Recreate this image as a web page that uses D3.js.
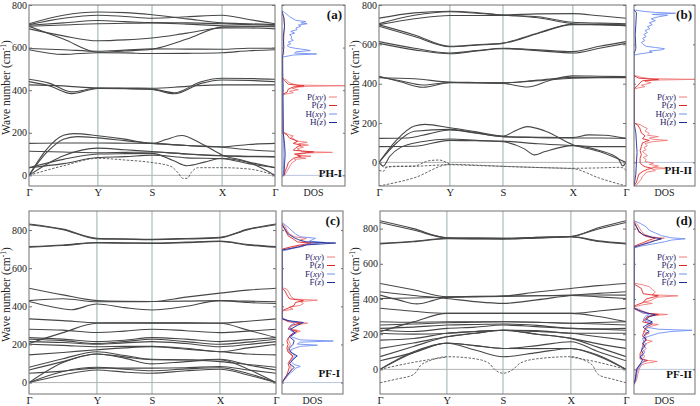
<!DOCTYPE html>
<html><head><meta charset="utf-8">
<script src="https://cdn.jsdelivr.net/npm/d3@7"></script>
<style>body{margin:0;background:#fff}svg{display:block}text{font-family:"Liberation Serif","Times New Roman",serif}</style>
</head><body><svg id="chart" width="700" height="406"></svg>
<script>
// ---------- DATA ----------
const kLabels = ["Γ","Y","S","X","Γ"];
const yTicks = [0, 200, 400, 600, 800];
// k-path cumulative distances (fraction of path) for each structure
const kPathA = [0, 0.28, 0.5, 0.785, 1];
const kPathB = [0, 0.287, 0.502, 0.785, 1];
const kPathC = [0, 0.275, 0.498, 0.773, 1];
const kPathD = [0, 0.272, 0.5, 0.776, 1];
// band values: 9 numbers = Γ, ½ΓY, Y, ½YS, S, ½SX, X, ½XΓ, Γ ; or [segmentCoord, value] pairs
const bandsA = [
  [712, 752, 767, 764, 754, 735, 716, 712, 708],
  [708, 738, 752, 746, 738, 745, 752, 732, 712],
  [705, 716, 727, 722, 717, 716, 712, 708, 705],
  [700, 706, 712, 714, 716, 710, 702, 700, 700],
  [688, 655, 632, 636, 645, 668, 692, 692, 688],
  [700, 640, 578, 584, 592, 640, 696, 698, 698],
  [596, 590, 583, 588, 594, 593, 592, 597, 597],
  [590, 568, 576, 575, 572, 573, 576, 585, 590],
  [[0,451],[0.3,432],[0.62,392],[1,410],[1.5,408],[2,405],[2.32,388],[2.7,440],[3,456],[3.5,455],[4,451]],
  [[0,440],[0.3,420],[0.62,384],[1,408],[1.5,407],[2,403],[2.32,383],[2.7,432],[3,448],[3.5,446],[4,440]],
  [425, 420, 410, 410, 409, 418, 425, 425, 425],
  [[0,0],[0.25,120],[0.5,188],[0.65,196],[1,186],[1.5,170],[2,150],[2.2,168],[2.42,187],[2.7,150],[3,96],[3.5,62],[4,0]],
  [[0,0],[0.25,105],[0.5,170],[0.7,182],[1,176],[1.5,163],[2,150],[2.5,140],[3,132],[3.5,120],[4,113]],
  [150, 152, 152, 151, 150, 140, 134, 145, 150],
  [[0,0],[0.5,92],[1,128],[1.5,120],[2,112],[2.5,100],[3,92],[3.5,88],[4,87]],
  [113, 110, 106, 108, 110, 100, 92, 90, 88],
  [[0,36],[0.5,75],[1,100],[1.5,102],[2,103],[2.3,70],[2.5,45],[2.75,62],[3,80],[3.5,62],[4,36]],
  [36, 55, 84, 88, 95, 82, 78, 55, 36]
];
const dashedA = [
  [[0,0],[0.5,45],[1,80],[1.5,72],[2,60],[2.27,42],[2.37,12],[2.44,-14],[2.5,-14],[2.57,18],[2.66,36],[3,36],[3.5,30],[4,0]]
];
const bandsB = [
  [733, 760, 768, 762, 750, 755, 756, 745, 733],
  [705, 748, 766, 758, 748, 740, 712, 708, 705],
  [700, 730, 747, 747, 747, 735, 705, 700, 695],
  [692, 640, 588, 596, 605, 655, 700, 700, 695],
  [699, 648, 590, 598, 607, 658, 702, 702, 699],
  [614, 580, 556, 568, 580, 572, 563, 590, 614],
  [605, 572, 552, 566, 578, 568, 556, 580, 605],
  [[0,438],[0.3,410],[0.62,382],[1,405],[1.5,404],[2,401],[2.35,383],[2.7,420],[3,440],[3.5,438],[4,436]],
  [[0,434],[0.3,415],[0.62,393],[1,406],[2,404],[2.5,418],[3,432],[4,432]],
  [430, 425, 408, 406, 404, 415, 428, 430, 430],
  [[0,0],[0.25,115],[0.5,185],[0.65,193],[1,176],[1.5,155],[2,134],[2.2,165],[2.35,182],[2.6,160],[3,90],[3.5,55],[4,0]],
  [[0,0],[0.25,100],[0.5,158],[1,168],[1.5,150],[2,131],[2.5,128],[3,126],[3.3,140],[3.6,138],[4,122]],
  [[0,122],[0.4,124],[0.7,145],[1,165],[1.5,148],[2,131],[2.5,126],[3,124],[3.5,124],[4,122]],
  [[0,0],[0.06,-18],[0.15,30],[0.3,75],[0.6,105],[1,119],[1.5,112],[2,105],[2.3,70],[2.45,38],[2.6,55],[3,85],[3.5,60],[3.85,20],[3.94,-18],[4,0]],
  [[0,80],[0.5,82],[1,112],[1.5,110],[2,108],[2.5,95],[3,86],[3.5,80],[4,80]]
];
const dashedB = [
  [-120, -78, -10, -14, -20, -26, -32, -80, -120],
  [[0,-40],[0.06,-45],[0.12,-22],[0.5,-20],[1,-12],[1.5,-16],[2,-20],[2.5,-26],[3,-30],[3.5,-28],[3.9,-25],[4,-40]],
  [[0,0],[0.08,-25],[0.2,-20],[0.5,-18],[0.7,8],[0.85,12],[0.95,0],[1,-10]]
];
const bandsC = [
  [832, 805, 757, 754, 752, 756, 762, 805, 832],
  [828, 802, 754, 752, 750, 753, 759, 802, 828],
  [713, 722, 735, 733, 732, 737, 742, 724, 713],
  [710, 719, 732, 731, 730, 734, 740, 721, 710],
  [495, 460, 430, 426, 425, 448, 469, 485, 495],
  [430, 440, 424, 424, 425, 427, 430, 427, 424],
  [[0,425],[0.3,400],[0.62,382],[1,412],[1.5,393],[2,381],[2.5,400],[3,430],[3.5,420],[4,415]],
  [334, 325, 314, 314, 313, 313, 312, 322, 334],
  [280, 275, 263, 270, 280, 272, 262, 270, 280],
  [205, 262, 311, 312, 312, 312, 311, 275, 236],
  [236, 228, 215, 222, 236, 228, 215, 225, 236],
  [227, 220, 205, 215, 227, 215, 201, 212, 227],
  [215, 210, 201, 208, 215, 205, 188, 200, 215],
  [201, 195, 188, 190, 190, 180, 162, 182, 201],
  [145, 158, 172, 182, 188, 175, 162, 150, 145],
  [0, 40, 66, 55, 49, 62, 70, 40, 0],
  [0, 58, 80, 70, 62, 72, 78, 48, 0],
  [[0,0],[0.5,105],[1,150],[1.5,128],[2,98],[2.5,110],[3,120],[3.5,70],[4,0]],
  [49, 60, 76, 76, 76, 78, 84, 66, 49],
  [66, 110, 150, 135, 120, 118, 122, 92, 66],
  [80, 125, 162, 142, 122, 120, 110, 95, 80]
];
const dashedC = [];
const bandsD = [
  [845, 800, 748, 746, 745, 750, 755, 805, 845],
  [835, 792, 748, 746, 745, 750, 755, 798, 835],
  [716, 728, 745, 743, 742, 748, 755, 730, 716],
  [713, 725, 742, 741, 740, 746, 752, 727, 713],
  [488, 452, 413, 415, 417, 440, 460, 476, 488],
  [441, 420, 403, 385, 375, 395, 420, 432, 441],
  [[0,422],[0.3,392],[0.55,372],[0.8,392],[1,411],[1.5,414],[2,416],[2.5,418],[3,422],[3.5,423],[4,422]],
  [403, 406, 409, 412, 415, 418, 420, 412, 403],
  [347, 330, 318, 318, 318, 318, 318, 332, 347],
  [214, 270, 318, 318, 318, 318, 318, 300, 271],
  [271, 268, 271, 271, 271, 268, 262, 266, 271],
  [252, 258, 265, 268, 271, 268, 262, 258, 252],
  [233, 240, 252, 255, 258, 250, 233, 230, 233],
  [222, 215, 233, 240, 252, 243, 233, 228, 222],
  [205, 200, 205, 215, 222, 220, 205, 205, 205],
  [166, 175, 205, 215, 222, 215, 205, 185, 166],
  [119, 150, 185, 205, 222, 200, 176, 145, 119],
  [72, 130, 185, 205, 222, 200, 176, 125, 72],
  [49, 95, 148, 135, 119, 135, 157, 100, 49],
  [0, 95, 150, 135, 119, 118, 119, 80, 0],
  [0, 100, 148, 110, 72, 95, 119, 75, 0]
];
const dashedD = [
  [[0,-76],[0.25,-55],[0.5,-30],[0.55,-10],[0.6,20],[0.75,50],[1,72],[1.5,60],[1.75,35],[1.85,0],[2,-22],[2.15,0],[2.25,35],[2.5,60],[3,72],[3.25,50],[3.4,20],[3.45,-10],[3.5,-30],[3.75,-55],[4,-76]],
  [[0,0],[0.5,40],[1,70]],
  [[3,70],[3.5,40],[4,0]]
];
// DOS: [frequency, density(0-100)]
const dosA_Pxy = [[0,4],[10,6],[20,8],[30,10],[40,12],[50,14],[60,16],[70,22],[75,20],[80,38],[85,26],[90,46],[95,24],[100,28],[105,40],[108,80],[112,32],[118,28],[125,24],[132,34],[138,28],[142,42],[148,26],[155,40],[162,22],[170,20],[178,14],[185,18],[192,10],[198,6],[205,0],[375,0],[382,6],[388,18],[395,12],[402,26],[408,16],[414,24],[418,40],[421,100],[424,24],[430,16],[438,10],[446,8],[452,4],[458,0],[560,0],[570,3],[600,2],[650,3],[700,4],[740,3],[770,0]];
const dosA_Pz = [[0,3],[20,5],[40,8],[60,10],[80,18],[90,30],[100,20],[110,50],[118,18],[130,22],[142,30],[150,18],[160,25],[175,12],[190,8],[205,0],[380,0],[390,8],[405,10],[415,18],[420,35],[428,10],[445,4],[455,0]];
const dosA_Hxy = [[0,2],[100,3],[200,2],[380,1],[420,2],[450,1],[555,0],[565,18],[570,55],[574,20],[580,22],[586,45],[590,38],[596,22],[602,12],[610,8],[618,14],[626,10],[634,18],[642,14],[650,16],[660,12],[668,20],[676,14],[684,24],[692,22],[700,30],[706,26],[712,40],[716,30],[722,38],[728,22],[735,18],[745,12],[755,8],[765,4],[772,0]];
const dosA_Hz = [[0,3],[50,4],[100,5],[150,4],[200,2],[560,1],[600,3],[650,2],[700,4],[740,3],[770,0]];
const dosB_Pxy = [[-125,0],[-115,4],[-100,8],[-85,12],[-70,14],[-60,18],[-50,20],[-42,35],[-35,30],[-30,55],[-25,30],[-18,40],[-10,25],[-4,32],[5,18],[15,20],[25,15],[35,22],[45,18],[55,14],[65,20],[75,16],[85,22],[95,18],[105,30],[112,55],[118,30],[124,25],[131,40],[138,22],[148,25],[160,18],[172,22],[182,15],[192,10],[200,0],[372,0],[378,6],[385,18],[392,12],[398,20],[405,28],[412,18],[418,30],[422,100],[426,25],[432,12],[438,6],[442,0]];
const dosB_Pz = [[-120,0],[-100,4],[-80,6],[-60,8],[-45,15],[-35,22],[-30,30],[-22,18],[-10,12],[0,10],[20,10],[40,12],[60,10],[80,12],[100,14],[112,25],[120,14],[135,18],[150,12],[170,10],[190,6],[200,0],[375,0],[390,6],[405,10],[415,14],[421,40],[428,8],[440,0]];
const dosB_Hxy = [[545,0],[552,10],[560,30],[566,25],[572,45],[578,50],[584,35],[590,20],[600,15],[610,12],[620,18],[630,14],[640,20],[650,16],[660,22],[670,18],[680,26],[690,22],[700,30],[710,25],[720,35],[730,28],[740,40],[748,55],[752,30],[758,68],[762,35],[768,15],[775,0]];
const dosB_Hz = [[-120,0],[-60,3],[0,4],[50,5],[100,4],[150,3],[200,0],[550,0],[580,3],[650,2],[700,3],[760,4],[775,0]];
const dosC_Pxy = [[0,0],[10,3],[30,8],[50,12],[70,15],[90,14],[110,12],[130,18],[145,15],[160,12],[180,10],[200,14],[215,12],[230,10],[250,14],[270,30],[285,12],[300,18],[312,42],[318,15],[330,5],[340,0],[375,0],[385,18],[395,12],[405,30],[415,35],[425,30],[432,58],[438,20],[450,15],[470,12],[490,8],[498,0],[695,0],[705,15],[715,25],[725,45],[732,60],[738,35],[748,30],[756,40],[765,20],[780,12],[800,8],[820,5],[835,0]];
const dosC_Pz = [[0,0],[20,4],[40,8],[60,10],[80,12],[100,10],[120,14],[140,18],[160,10],[180,8],[200,10],[220,8],[240,12],[260,18],[270,25],[280,10],[300,14],[312,30],[320,10],[335,0],[378,0],[390,10],[405,20],[420,22],[430,35],[440,12],[460,8],[480,5],[495,0],[700,0],[712,15],[722,30],[730,48],[738,25],[750,20],[770,10],[800,5],[830,0]];
const dosC_Fxy = [[0,0],[20,5],[40,10],[60,18],[75,22],[85,30],[95,20],[110,15],[125,18],[140,22],[160,14],[175,16],[190,30],[196,58],[202,25],[212,30],[218,84],[224,30],[240,15],[260,20],[280,12],[300,15],[315,22],[325,10],[340,0],[690,0],[705,20],[715,35],[725,40],[735,70],[742,45],[750,50],[757,55],[765,30],[780,22],[800,15],[820,8],[840,0]];
const dosC_Fz = [[0,0],[30,6],[60,14],[80,20],[100,12],[120,18],[140,25],[160,14],[180,12],[200,18],[220,20],[240,12],[260,22],[280,14],[300,25],[315,35],[325,10],[335,0],[695,0],[710,25],[722,40],[732,88],[738,40],[748,28],[760,20],[780,10],[800,6],[830,0]];
const dosD_Pxy = [[-85,0],[-70,3],[-50,5],[-30,6],[-10,8],[0,8],[10,10],[25,12],[35,20],[45,38],[52,20],[60,14],[75,18],[90,12],[105,16],[120,20],[135,15],[150,22],[160,30],[168,18],[180,20],[195,18],[205,25],[215,15],[230,20],[245,28],[255,40],[262,22],[275,18],[290,20],[305,30],[312,55],[318,25],[330,15],[342,8],[350,0],[355,0],[365,12],[375,30],[382,15],[392,28],[400,32],[410,38],[418,72],[424,30],[440,35],[455,30],[470,25],[480,15],[490,0],[690,0],[705,12],[718,20],[730,30],[740,42],[746,50],[752,30],[765,18],[785,12],[810,8],[830,4],[845,0]];
const dosD_Pz = [[-80,0],[-40,3],[0,5],[20,8],[40,14],[50,22],[60,10],[90,10],[120,14],[150,15],[165,20],[190,14],[210,16],[240,20],[258,30],[270,14],[300,22],[312,40],[320,15],[345,0],[360,0],[380,15],[400,20],[418,40],[430,15],[460,12],[485,0],[700,0],[720,15],[735,25],[746,35],[755,20],[780,8],[820,3],[840,0]];
const dosD_Fxy = [[-85,0],[-60,3],[-30,4],[0,6],[20,10],[40,14],[50,18],[60,12],[80,14],[100,18],[120,12],[140,20],[160,16],[175,14],[190,26],[205,40],[215,60],[222,95],[228,40],[240,20],[255,25],[265,30],[280,15],[300,18],[312,25],[325,12],[340,5],[350,0],[690,0],[700,10],[712,30],[725,50],[735,62],[742,84],[748,60],[760,45],[775,35],[790,25],[810,20],[830,10],[845,0]];
const dosD_Fz = [[-85,0],[-60,2],[-30,3],[0,4],[20,8],[40,12],[55,14],[70,10],[90,15],[110,12],[130,18],[150,14],[170,20],[185,16],[200,18],[215,25],[225,20],[240,15],[255,22],[270,30],[285,20],[300,25],[310,35],[320,22],[335,8],[348,0],[695,0],[708,12],[720,25],[732,35],[742,45],[750,30],[765,15],[785,8],[810,4],[830,0]];
const legendPH = ["P", "P", "H", "H"];
const legendPF = ["P", "P", "F", "F"];
const legendSub = ["xy", "z", "xy", "z"];
const seriesColors = ["#f07878", "#e02828", "#6f8ff2", "#1e2a96"];

// ---------- LAYOUT ----------
const panels = [
  {box:[29,5,275,186], dos:[282,345], yDom:[-50,800], k:kPathA, bands:bandsA, dashed:dashedA, dosS:[dosA_Pxy,dosA_Pz,dosA_Hxy,dosA_Hz], leg:legendPH, legY:97, tag:"(a)", name:"PH-I", nameY:177, titleX:10},
  {box:[379,5,626,186], dos:[634,695], yDom:[-120,800], k:kPathB, bands:bandsB, dashed:dashedB, dosS:[dosB_Pxy,dosB_Pz,dosB_Hxy,dosB_Hz], leg:legendPH, legY:97, tag:"(b)", name:"PH-II", nameY:174, titleX:359},
  {box:[29,211,276,394], dos:[282,343], yDom:[-60,900], k:kPathC, bands:bandsC, dashed:dashedC, dosS:[dosC_Pxy,dosC_Pz,dosC_Fxy,dosC_Fz], leg:legendPF, legY:257, tag:"(c)", name:"PF-I", nameY:377, titleX:10},
  {box:[380,211,626,394], dos:[634,695], yDom:[-140,900], k:kPathD, bands:bandsD, dashed:dashedD, dosS:[dosD_Pxy,dosD_Pz,dosD_Fxy,dosD_Fz], leg:legendPF, legY:257, tag:"(d)", name:"PF-II", nameY:378, titleX:359}
];

const svg = d3.select("#chart");
const defs = svg.append("defs");

panels.forEach((p, pi) => {
  const [x0, y0, x1, y1] = p.box;
  const [d0, d1] = p.dos;
  const y = d3.scaleLinear().domain(p.yDom).range([y1, y0]);
  const x = d3.scaleLinear().domain([0, 1]).range([x0, x1]);
  const kAt = s => {
    const i = Math.min(3, Math.floor(s));
    return p.k[i] + (s - i) * (p.k[i + 1] - p.k[i]);
  };
  const toPts = b => (typeof b[0] === "number") ? b.map((v, i) => [i / 2, v]) : b;
  const line = d3.line().x(d => x(kAt(d[0]))).y(d => y(d[1])).curve(d3.curveMonotoneX);

  const cid = "clip" + pi;
  defs.append("clipPath").attr("id", cid).append("rect")
    .attr("x", x0).attr("y", y0).attr("width", x1 - x0).attr("height", y1 - y0);
  const cidD = "clipd" + pi;
  defs.append("clipPath").attr("id", cidD).append("rect")
    .attr("x", d0).attr("y", y0).attr("width", d1 - d0).attr("height", y1 - y0);

  const g = svg.append("g");
  g.selectAll(".vl").data(p.k.slice(1, 4)).enter().append("line")
    .attr("x1", d => x(d)).attr("x2", d => x(d)).attr("y1", y0).attr("y2", y1)
    .attr("stroke", "#8ea3a8").attr("stroke-width", 0.9);
  g.append("line").attr("x1", x0).attr("x2", x1).attr("y1", y(0)).attr("y2", y(0))
    .attr("stroke", "#b4b4b4").attr("stroke-width", 1);

  const gb = g.append("g").attr("clip-path", `url(#${cid})`);
  gb.selectAll(".band").data(p.bands).enter().append("path")
    .attr("d", b => line(toPts(b))).attr("fill", "none")
    .attr("stroke", "#474747").attr("stroke-width", 1.1);
  gb.selectAll(".dband").data(p.dashed).enter().append("path")
    .attr("d", b => line(toPts(b))).attr("fill", "none")
    .attr("stroke", "#555").attr("stroke-width", 0.9).attr("stroke-dasharray", "2.5,1.5");

  g.append("rect").attr("x", x0).attr("y", y0).attr("width", x1 - x0).attr("height", y1 - y0)
    .attr("fill", "none").attr("stroke", "#707070").attr("stroke-width", 1);

  const ax = d3.axisLeft(y).tickValues(yTicks).tickSize(-3).tickPadding(2);
  const ga = g.append("g").attr("transform", `translate(${x0},0)`).call(ax);
  ga.select(".domain").remove();
  ga.selectAll("text").attr("font-size", 10).attr("fill", "#222").style("font-family", '"Liberation Serif", serif');
  ga.selectAll("line").attr("stroke", "#707070");
  const axR = d3.axisRight(y).tickValues(yTicks).tickSize(-3).tickFormat("");
  const gr = g.append("g").attr("transform", `translate(${x1},0)`).call(axR);
  gr.select(".domain").remove(); gr.selectAll("line").attr("stroke", "#707070");

  const xa = d3.axisBottom(x).tickValues(p.k).tickSize(0).tickPadding(0)
    .tickFormat((d, i) => kLabels[i]);
  const gx = g.append("g").attr("transform", `translate(0,${y1})`).call(xa);
  gx.select(".domain").remove();
  gx.selectAll("text").attr("font-size", 10.5).attr("fill", "#222").attr("dy", null).attr("y", 10)
    .style("font-family", '"Liberation Serif", serif');

  const tt = g.append("text").attr("transform", `translate(${p.titleX},${(y0 + y1) / 2 - 8}) rotate(-90)`)
    .attr("text-anchor", "middle").attr("font-size", 11.5).attr("fill", "#222");
  tt.append("tspan").text("Wave number (cm");
  tt.append("tspan").attr("dy", -4).attr("font-size", 7.5).text("-1");
  tt.append("tspan").attr("dy", 4).text(")");

  const xd = d3.scaleLinear().domain([0, 100]).range([d0, d1]);
  g.append("line").attr("x1", d0).attr("x2", d1).attr("y1", y(0)).attr("y2", y(0))
    .attr("stroke", "#b8c4dc").attr("stroke-width", 1);
  const dline = d3.line().x(d => xd(d[1])).y(d => y(d[0]));
  const gd = g.append("g").attr("clip-path", `url(#${cidD})`);
  gd.selectAll(".dos").data(p.dosS).enter().append("path")
    .attr("d", s => dline(s)).attr("fill", "none")
    .attr("stroke", (s, i) => seriesColors[i]).attr("stroke-width", 0.9);
  g.append("rect").attr("x", d0).attr("y", y0).attr("width", d1 - d0).attr("height", y1 - y0)
    .attr("fill", "none").attr("stroke", "#707070").attr("stroke-width", 1);
  const dl = d3.axisRight(y).tickValues(yTicks).tickSize(2).tickFormat("");
  const gdl = g.append("g").attr("transform", `translate(${d0},0)`).call(dl);
  gdl.select(".domain").remove(); gdl.selectAll("line").attr("stroke", "#707070");
  const dr = d3.axisLeft(y).tickValues(yTicks).tickSize(2).tickFormat("");
  const gdr = g.append("g").attr("transform", `translate(${d1},0)`).call(dr);
  gdr.select(".domain").remove(); gdr.selectAll("line").attr("stroke", "#707070");

  g.append("text").attr("x", (d0 + d1) / 2).attr("y", y1 + 10)
    .attr("text-anchor", "middle").attr("font-size", 10).attr("fill", "#222").text("DOS");

  g.append("text").attr("x", d1 - 3).attr("y", y0 + 14).attr("text-anchor", "end")
    .attr("font-size", 13).attr("font-weight", "bold").attr("fill", "#111").text(p.tag);
  g.append("text").attr("x", d1 - 3).attr("y", p.nameY).attr("text-anchor", "end")
    .attr("font-size", 11).attr("font-weight", "bold").attr("fill", "#111").text(p.name);

  const lg = g.append("g");
  p.leg.forEach((el, i) => {
    const ly = p.legY + i * 8.5;
    const t = lg.append("text").attr("x", d1 - 19).attr("y", ly).attr("dy", "0.32em")
      .attr("text-anchor", "end").attr("font-size", 9).attr("fill", "#2e2468");
    t.append("tspan").text(el + "(");
    t.append("tspan").attr("font-style", "italic").text(legendSub[i]);
    t.append("tspan").text(")");
    lg.append("line").attr("x1", d1 - 16).attr("x2", d1 - 8).attr("y1", ly).attr("y2", ly)
      .attr("stroke", seriesColors[i]).attr("stroke-width", 1);
  });
});
</script></body></html>
